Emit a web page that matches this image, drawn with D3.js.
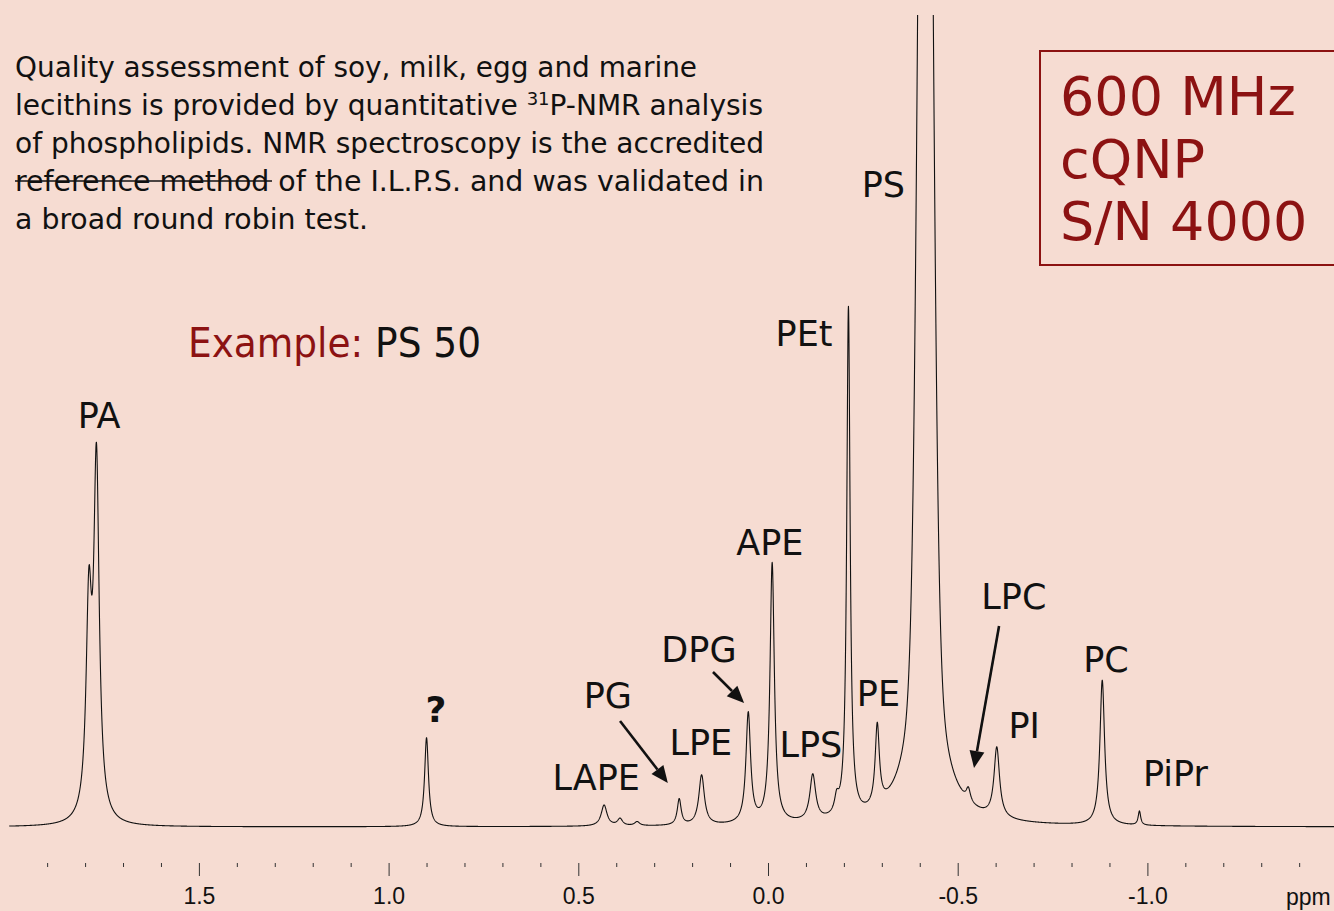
<!DOCTYPE html>
<html>
<head>
<meta charset="utf-8">
<script src="https://cdn.jsdelivr.net/npm/d3@7"></script>
<style>
  body { margin: 0; background: #F6DCD2; }
  svg { display: block; }
</style>
</head>
<body>
<div id="chart"></div>
<script>
// 31P spectrum, read off the picture as a peak list
// ppm position, height above baseline, half width (ppm), lorentz fraction
var peakNames  = ["PA b", "PA", "?", "LAPE", "LAPE b", "LAPE c", "PG", "LPE", "DPG", "APE", "LPS", "LPS b", "PEt", "PE", "PS", "PS base", "LPC", "PI", "PC", "PiPr"];
var peakPpm    = [1.790, 1.770, 0.900, 0.432, 0.390, 0.345, 0.234, 0.175, 0.052, -0.011, -0.118, -0.181, -0.212, -0.288, -0.415, -0.415, -0.528, -0.603, -0.881, -0.979];
var peakHeight = [204, 352, 89, 21, 7, 4, 26, 50, 110, 260, 46, 15, 510, 81, 1289, 335, 13, 70, 145, 14];
var peakWidth  = [0.0087, 0.0087, 0.0061, 0.0092, 0.0079, 0.0079, 0.0061, 0.0087, 0.0074, 0.0069, 0.0092, 0.0066, 0.0053, 0.0066, 0.0191, 0.0327, 0.0066, 0.0087, 0.0074, 0.0040];
var peakEta    = [1, 1, 1, 1, 1, 1, 1, 1, 1, 1, 1, 1, 1, 1, 0, 1, 1, 1, 1, 1];

// annotations: text, ppm (centre), intensity (baseline of text)
var labelText  = ["PA", "PS", "PEt", "APE", "DPG", "PG", "LPE", "LAPE", "LPS", "PE", "LPC", "PI", "PC", "PiPr"];
var labelPpm   = [1.763, -0.304, -0.095, -0.005, 0.182, 0.422, 0.177, 0.453, -0.113, -0.291, -0.648, -0.675, -0.891, -1.074];
var labelLevel = [399, 630, 481, 272, 165, 119, 72, 37, 70, 121, 218, 89, 155, 41];

// arrows: from (ppm, intensity) to (ppm, intensity)
var arrowFromPpm = [0.145, 0.390, -0.609];
var arrowFromInt = [155, 106, 201];
var arrowToPpm   = [0.063, 0.264, -0.543];
var arrowToInt   = [124, 44, 59];

var majorTicks = [1.5, 1.0, 0.5, 0.0, -0.5, -1.0];
var tickLabels = ["1.5", "1.0", "0.5", "0.0", "-0.5", "-1.0"];
var minorTicks = [1.9, 1.8, 1.7, 1.6, 1.4, 1.3, 1.2, 1.1, 0.9, 0.8, 0.7, 0.6, 0.4, 0.3, 0.2, 0.1,
                  -0.1, -0.2, -0.3, -0.4, -0.6, -0.7, -0.8, -0.9, -1.1, -1.2, -1.3, -1.4];

var width = 1334, height = 911;
var red = "#8C1212";

var svg = d3.select("#chart").append("svg")
    .attr("width", width)
    .attr("height", height);

svg.append("rect")
    .attr("width", width)
    .attr("height", height)
    .attr("fill", "#F6DCD2");

var x = d3.scaleLinear().domain([2.0, -1.5]).range([9.2, 1337.1]);
var y = d3.scaleLinear().domain([0, 812]).range([827, 15]);

// spectrum = sum of the peaks
function intensity(ppm) {
    var s = 0;
    for (var i = 0; i < peakPpm.length; i++) {
        var u = (ppm - peakPpm[i]) / peakWidth[i];
        var lor = 1 / (1 + u * u);
        var gau = Math.exp(-Math.LN2 * u * u);
        s += peakHeight[i] * (peakEta[i] * lor + (1 - peakEta[i]) * gau);
    }
    return s;
}

var grid = d3.range(2.0, -1.5, -0.0005);
var spectrum = grid.map(function (p) { return { ppm: p, v: intensity(p) }; });

svg.append("clipPath").attr("id", "plot")
  .append("rect")
    .attr("x", 0).attr("y", 15)
    .attr("width", width).attr("height", height - 15);

var line = d3.line()
    .x(function (d) { return x(d.ppm); })
    .y(function (d) { return y(Math.min(d.v, 830)); });

svg.append("path")
    .datum(spectrum)
    .attr("clip-path", "url(#plot)")
    .attr("fill", "none")
    .attr("stroke", "#111")
    .attr("stroke-width", 1.1)
    .attr("stroke-linejoin", "round")
    .attr("d", line);

// axis
var axisY = 863;
var minorAxis = d3.axisBottom(x).tickValues(minorTicks).tickSize(4).tickFormat("");
var majorAxis = d3.axisBottom(x).tickValues(majorTicks).tickSize(13).tickPadding(12)
    .tickFormat(function (d, i) { return tickLabels[i]; });

var gMinor = svg.append("g").attr("transform", "translate(0," + axisY + ")").call(minorAxis);
var gMajor = svg.append("g").attr("transform", "translate(0," + axisY + ")").call(majorAxis);
[gMinor, gMajor].forEach(function (g) {
    g.select(".domain").remove();
    g.selectAll("line").attr("stroke", "#333").attr("stroke-width", 1);
});
gMajor.selectAll("text")
    .attr("fill", "#111")
    .style("font-family", "'Liberation Sans', Arial, sans-serif")
    .style("font-size", "23px");

svg.append("text")
    .text("ppm")
    .attr("x", 1286)
    .attr("y", 905)
    .attr("fill", "#111")
    .style("font-family", "'Liberation Sans', Arial, sans-serif")
    .style("font-size", "23px");

// peak labels
svg.selectAll(".peak-label")
    .data(labelText)
    .enter().append("text")
    .attr("class", "peak-label")
    .text(function (d) { return d; })
    .attr("x", function (d, i) { return x(labelPpm[i]); })
    .attr("y", function (d, i) { return y(labelLevel[i]); })
    .attr("text-anchor", "middle")
    .attr("fill", "#111")
    .style("font-family", "'DejaVu Sans', Verdana, sans-serif")
    .style("font-size", "35px");

svg.append("text")
    .text("?")
    .attr("x", x(0.875))
    .attr("y", y(105))
    .attr("text-anchor", "middle")
    .attr("fill", "#111")
    .style("font-family", "'DejaVu Sans', Verdana, sans-serif")
    .style("font-weight", "bold")
    .style("font-size", "36px");

// arrows
arrowFromPpm.forEach(function (p, i) {
    var x1 = x(p), y1 = y(arrowFromInt[i]);
    var x2 = x(arrowToPpm[i]), y2 = y(arrowToInt[i]);
    var a = Math.atan2(y2 - y1, x2 - x1);
    var len = 17, half = 7.5;
    var bx = x2 - len * Math.cos(a), by = y2 - len * Math.sin(a);
    svg.append("line")
        .attr("x1", x1).attr("y1", y1)
        .attr("x2", bx).attr("y2", by)
        .attr("stroke", "#111")
        .attr("stroke-width", 2.6);
    svg.append("path")
        .attr("d", "M" + x2 + "," + y2 +
            "L" + (bx + half * Math.sin(a)) + "," + (by - half * Math.cos(a)) +
            "L" + (bx - half * Math.sin(a)) + "," + (by + half * Math.cos(a)) + "Z")
        .attr("fill", "#111");
});

// description text
var descFont = "'DejaVu Sans Condensed', 'DejaVu Sans', Tahoma, sans-serif";
var desc = svg.append("g")
    .style("font-family", descFont)
    .style("font-size", "28px")
    .attr("fill", "#111");

var rows = [
    { y: 77, w: 682, parts: ["Quality assessment of soy, milk, egg and marine"] },
    { y: 115, w: 748, parts: ["lecithins is provided by quantitative ", "31", "P-NMR analysis"] },
    { y: 153, w: 749, parts: ["of phospholipids. NMR spectroscopy is the accredited"] },
    { y: 191, w: 749, parts: ["reference method of the I.L.P.S. and was validated in"] },
    { y: 229, w: 353, parts: ["a broad round robin test."] }
];
rows.forEach(function (r) {
    var t = desc.append("text")
        .attr("x", 15).attr("y", r.y)
        .attr("textLength", r.w)
        .attr("lengthAdjust", "spacingAndGlyphs");
    if (r.parts.length === 1) {
        t.text(r.parts[0]);
    } else {
        t.append("tspan").text(r.parts[0]);
        t.append("tspan").text(r.parts[1]).attr("dy", -10).style("font-size", "18px");
        t.append("tspan").text(r.parts[2]).attr("dy", 10);
    }
});
desc.append("line")
    .attr("x1", 15).attr("x2", 272)
    .attr("y1", 181).attr("y2", 181)
    .attr("stroke", "#111")
    .attr("stroke-width", 1.5);

// example line
var ex = svg.append("text")
    .attr("x", 188).attr("y", 357)
    .attr("textLength", 293)
    .attr("lengthAdjust", "spacingAndGlyphs")
    .style("font-family", descFont)
    .style("font-size", "40px");
ex.append("tspan").text("Example:").attr("fill", red);
ex.append("tspan").text(" PS 50").attr("fill", "#111");

// instrument box
svg.append("rect")
    .attr("x", 1040).attr("y", 51)
    .attr("width", 320).attr("height", 214)
    .attr("fill", "none")
    .attr("stroke", red)
    .attr("stroke-width", 2);

svg.selectAll(".box-text")
    .data(["600 MHz", "cQNP", "S/N 4000"])
    .enter().append("text")
    .attr("class", "box-text")
    .text(function (d) { return d; })
    .attr("x", 1060)
    .attr("y", function (d, i) { return 115 + i * 62.5; })
    .attr("fill", red)
    .style("font-family", "'DejaVu Sans', Verdana, sans-serif")
    .style("font-size", "54px");
</script>
</body>
</html>
